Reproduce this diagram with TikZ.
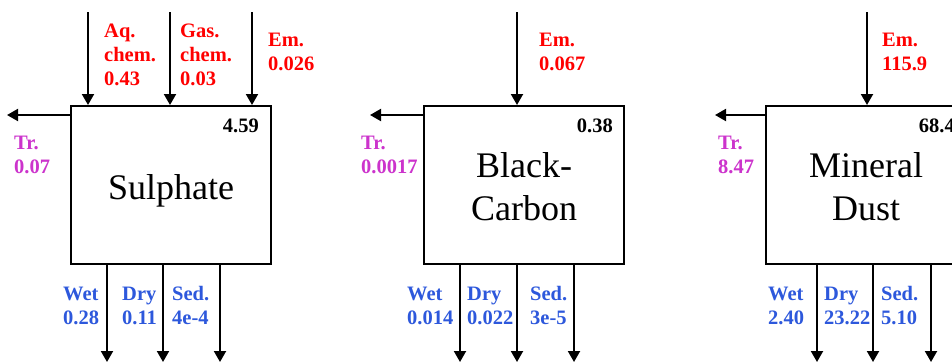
\documentclass[tikz,border=0pt]{standalone}
\usepackage{fontspec}
\setmainfont{Liberation Serif}
\usetikzlibrary{arrows.meta}
\definecolor{emred}{RGB}{255,0,0}
\definecolor{trmag}{RGB}{204,51,204}
\definecolor{depblue}{RGB}{45,88,220}
\tikzset{
  box/.style={draw=black, line width=2pt, minimum width=200pt, minimum height=158pt, inner sep=0pt},
  flow/.style={line width=2pt, -{Triangle[length=11pt,width=12pt]}},
  lab/.style={font=\fontsize{20.5}{24}\selectfont\bfseries, align=left, inner sep=0pt, anchor=base west},
  em/.style={lab, text=emred},
  tr/.style={lab, text=trmag},
  dep/.style={lab, text=depblue},
  tot/.style={font=\fontsize{20.5}{24}\selectfont\bfseries, inner sep=0pt, anchor=base east},
  title/.style={font=\fontsize{36}{43}\selectfont, align=center, inner sep=0pt, anchor=base}
}
\begin{document}
\begin{tikzpicture}[x=1pt, y=-1pt]
\clip (0,0) rectangle (952,362);
\fill[white] (0,0) rectangle (952,362);

% ---------------- Sulphate ----------------
\node[box] (S) at (171,185) {};
\node[title] (St) at (171,199) {Sulphate};
\node[tot] (Sv) at (259,132) {4.59};
\coordinate (Sa1) at (88,12);
\coordinate (Sa2) at (170,12);
\coordinate (Sa3) at (252,12);
\draw[flow] (Sa1) -- (Sa1 |- S.north);
\draw[flow] (Sa2) -- (Sa2 |- S.north);
\draw[flow] (Sa3) -- (Sa3 |- S.north);
\node[em] (Sl1) at (104,85) {Aq.\\chem.\\0.43};
\node[em] (Sl2) at (180,85) {Gas.\\chem.\\0.03};
\node[em] (Sl3) at (268,70) {Em.\\0.026};
\coordinate (Str) at (7,115);
\draw[flow] (S.west |- Str) -- (Str);
\node[tr] (Slt) at (14,173) {Tr.\\0.07};
\coordinate (Sb1) at (107,362);
\coordinate (Sb2) at (163,362);
\coordinate (Sb3) at (220,362);
\draw[flow] (S.south -| Sb1) -- (Sb1);
\draw[flow] (S.south -| Sb2) -- (Sb2);
\draw[flow] (S.south -| Sb3) -- (Sb3);
\node[dep] (Sw) at (63,324) {Wet\\0.28};
\node[dep] (Sd) at (122,324) {Dry\\0.11};
\node[dep] (Ss) at (172,324) {Sed.\\4e-4};

% ---------------- Black Carbon ----------------
\node[box] (B) at (524,185) {};
\node[title] (Bt) at (524,220) {Black-\\Carbon};
\node[tot] (Bv) at (613,132) {0.38};
\coordinate (Ba1) at (517,12);
\draw[flow] (Ba1) -- (Ba1 |- B.north);
\node[em] (Bl1) at (539,70) {Em.\\0.067};
\coordinate (Btr) at (370,115);
\draw[flow] (B.west |- Btr) -- (Btr);
\node[tr] (Blt) at (361,173) {Tr.\\0.0017};
\coordinate (Bb1) at (460,362);
\coordinate (Bb2) at (517,362);
\coordinate (Bb3) at (574,362);
\draw[flow] (B.south -| Bb1) -- (Bb1);
\draw[flow] (B.south -| Bb2) -- (Bb2);
\draw[flow] (B.south -| Bb3) -- (Bb3);
\node[dep] (Bw) at (407,324) {Wet\\0.014};
\node[dep] (Bd) at (467,324) {Dry\\0.022};
\node[dep] (Bs) at (530,324) {Sed.\\3e-5};

% ---------------- Mineral Dust ----------------
\node[box] (M) at (866,185) {};
\node[title] (Mt) at (866,220) {Mineral\\Dust};
\node[tot] (Mv) at (955,132) {68.4};
\coordinate (Ma1) at (867,12);
\draw[flow] (Ma1) -- (Ma1 |- M.north);
\node[em] (Ml1) at (882,70) {Em.\\115.9};
\coordinate (Mtr) at (715,115);
\draw[flow] (M.west |- Mtr) -- (Mtr);
\node[tr] (Mlt) at (718,173) {Tr.\\8.47};
\coordinate (Mb1) at (817,362);
\coordinate (Mb2) at (873,362);
\coordinate (Mb3) at (931,362);
\draw[flow] (M.south -| Mb1) -- (Mb1);
\draw[flow] (M.south -| Mb2) -- (Mb2);
\draw[flow] (M.south -| Mb3) -- (Mb3);
\node[dep] (Mw) at (768,324) {Wet\\2.40};
\node[dep] (Md) at (824,324) {Dry\\23.22};
\node[dep] (Ms) at (881,324) {Sed.\\5.10};
\end{tikzpicture}
\end{document}
